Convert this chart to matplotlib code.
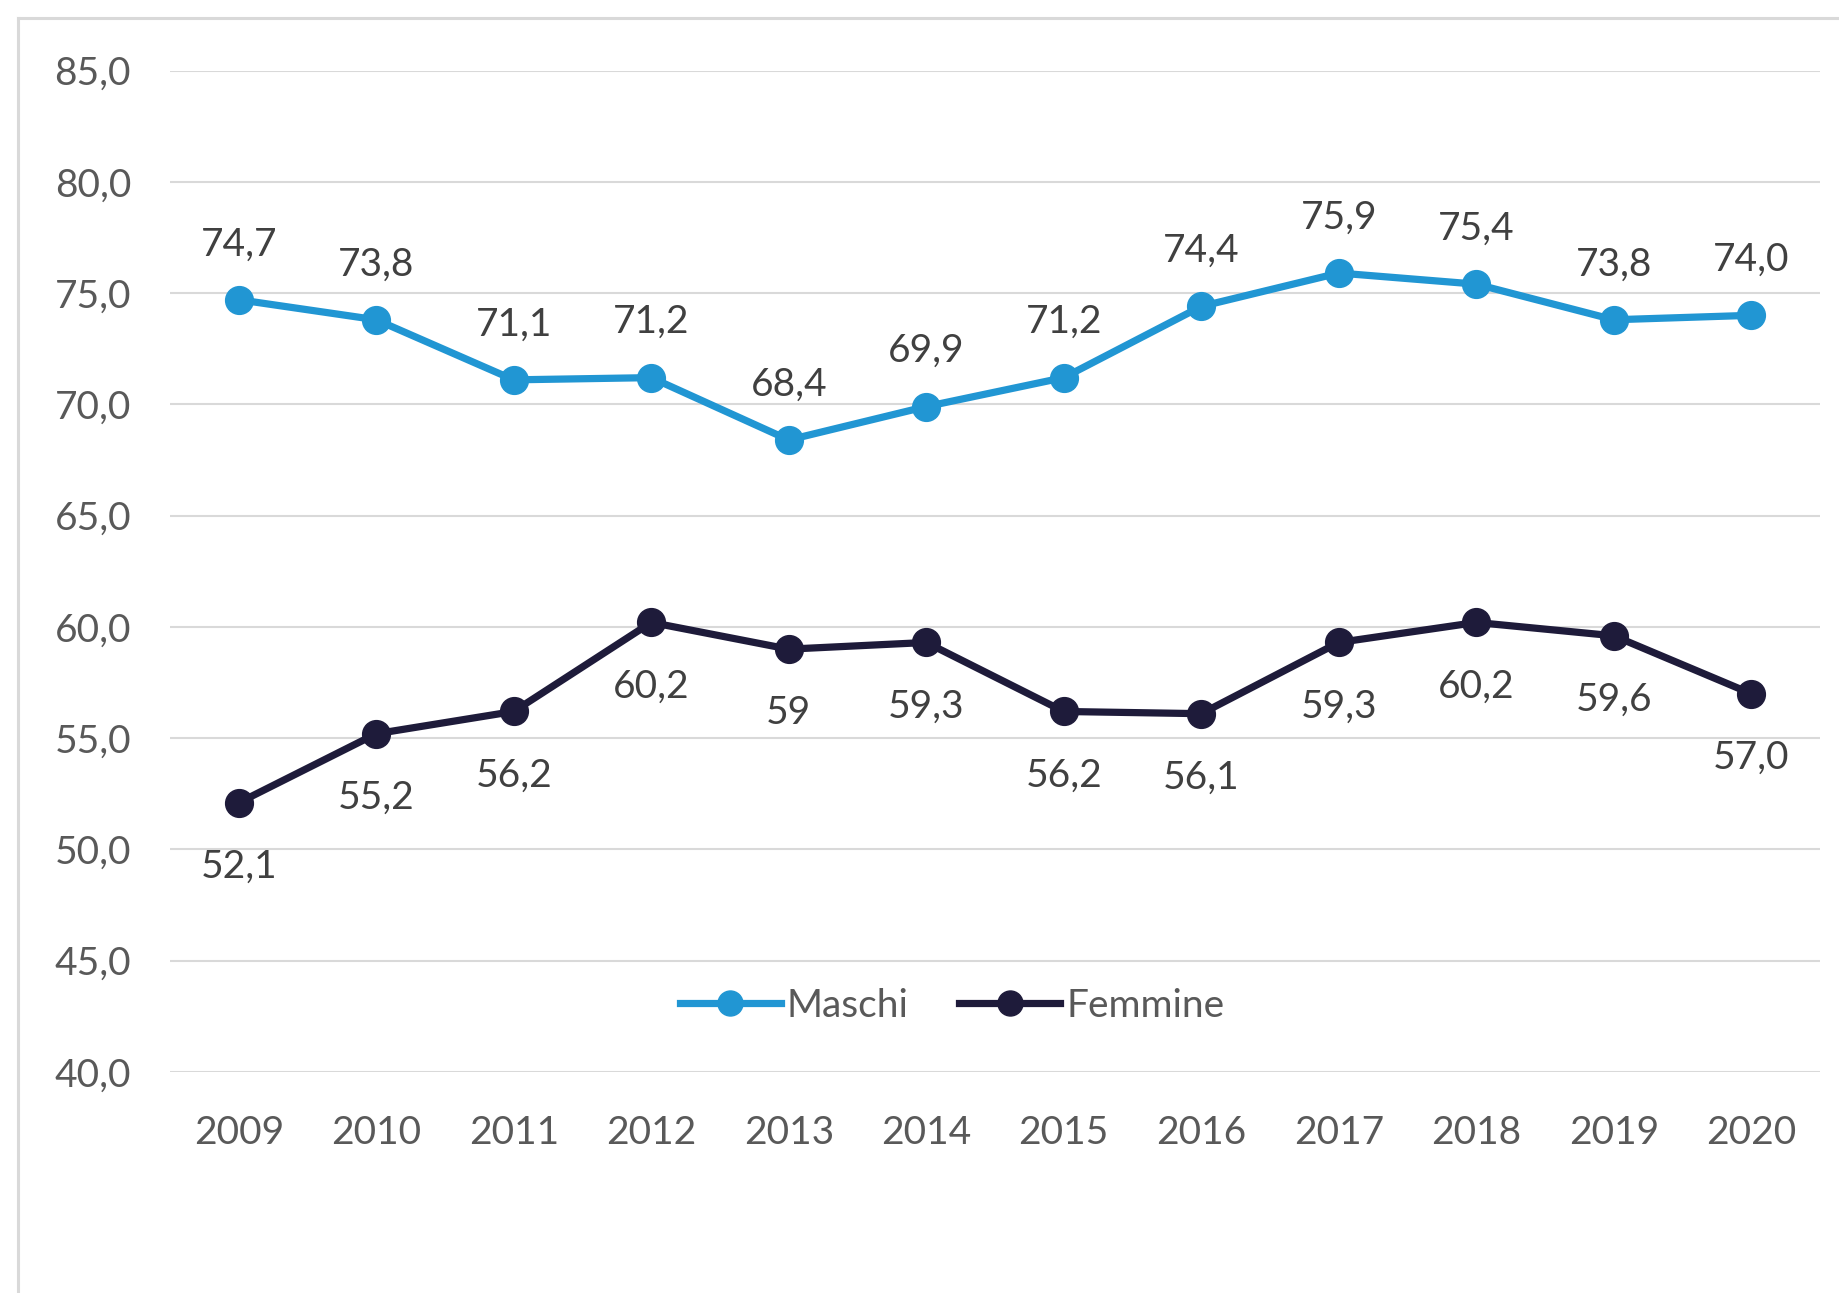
import matplotlib
matplotlib.use("Agg")
import matplotlib.pyplot as plt
from matplotlib.lines import Line2D

years = ["2009", "2010", "2011", "2012", "2013", "2014", "2015", "2016", "2017", "2018", "2019", "2020"]
maschi = [74.7, 73.8, 71.1, 71.2, 68.4, 69.9, 71.2, 74.4, 75.9, 75.4, 73.8, 74.0]
femmine = [52.1, 55.2, 56.2, 60.2, 59.0, 59.3, 56.2, 56.1, 59.3, 60.2, 59.6, 57.0]
maschi_labels = ["74,7", "73,8", "71,1", "71,2", "68,4", "69,9", "71,2", "74,4", "75,9", "75,4", "73,8", "74,0"]
femmine_labels = ["52,1", "55,2", "56,2", "60,2", "59", "59,3", "56,2", "56,1", "59,3", "60,2", "59,6", "57,0"]
yticks = [40, 45, 50, 55, 60, 65, 70, 75, 80, 85]
ytick_labels = ["40,0", "45,0", "50,0", "55,0", "60,0", "65,0", "70,0", "75,0", "80,0", "85,0"]

plt.rcParams['font.family'] = ['Lato', 'DejaVu Sans']

C_M = "#2196D3"
C_F = "#1E1B3A"
TXT = "#595959"
LBL = "#404040"
FS = 28

fig = plt.figure(figsize=(18.4, 12.93), dpi=100)
W, H = 1840, 1293
ax = fig.add_axes([170 / W, 1 - 1072 / H, (1820 - 170) / W, (1072 - 70.5) / H])

x = list(range(len(years)))
ax.plot(x, maschi, color=C_M, lw=5.2, marker="o", ms=20, label="Maschi", zorder=3)
ax.plot(x, femmine, color=C_F, lw=5.2, marker="o", ms=20, label="Femmine", zorder=3)

for xi, v, s in zip(x, maschi, maschi_labels):
    ax.annotate(s, (xi, v), xytext=(0, 32), textcoords="offset points",
                ha="center", va="baseline", fontsize=FS, color=LBL)
for xi, v, s in zip(x, femmine, femmine_labels):
    ax.annotate(s, (xi, v), xytext=(0, -54), textcoords="offset points",
                ha="center", va="baseline", fontsize=FS, color=LBL)

ax.set_xlim(-0.5, len(years) - 0.5)
ax.set_ylim(40, 85)
ax.set_yticks(yticks)
ax.set_yticklabels(ytick_labels)
ax.set_xticks(x)
ax.set_xticklabels(years)
ax.tick_params(axis="both", length=0, labelsize=FS, labelcolor=TXT)
ax.tick_params(axis="y", pad=28)
ax.tick_params(axis="x", pad=31)
ax.grid(axis="y", color="#D9D9D9", lw=1.5)
ax.set_axisbelow(True)
for sp in ax.spines.values():
    sp.set_visible(False)

leg = ax.legend(loc="center", bbox_to_anchor=(952 / W, 1 - 1006 / H),
                bbox_transform=fig.transFigure, ncol=2, frameon=False,
                fontsize=FS, labelcolor=TXT, handlelength=2.6, handletextpad=0.15,
                columnspacing=1.3, markerscale=0.9)

# outer chart frame (partially cropped)
fig.add_artist(Line2D([17.5 / W, 17.5 / W], [0, 1 - 17.5 / H], color="#D9D9D9", lw=2.2,
                      transform=fig.transFigure))
fig.add_artist(Line2D([17.5 / W, 1], [1 - 17.5 / H, 1 - 17.5 / H], color="#D9D9D9", lw=2.2,
                      transform=fig.transFigure))

fig.savefig("out.png", dpi=100, facecolor="white")
